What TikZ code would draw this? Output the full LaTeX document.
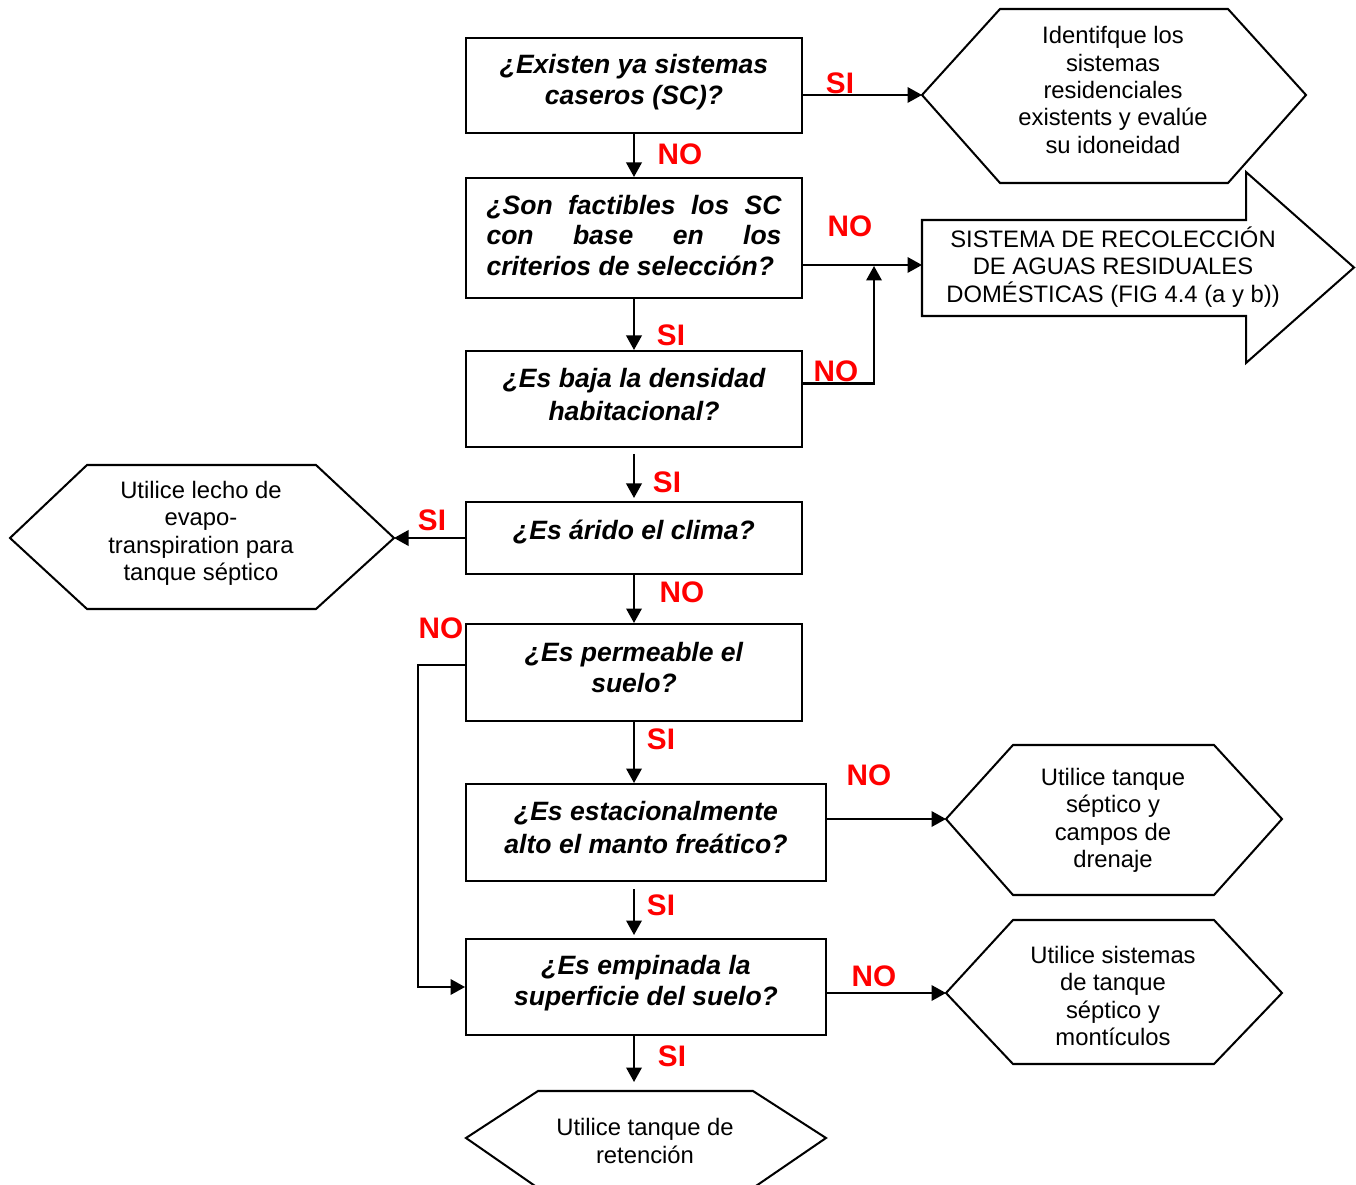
\documentclass[tikz,border=0pt]{standalone}
\usepackage{fontspec}
\setmainfont{Liberation Sans}
\usetikzlibrary{arrows.meta,calc}
\definecolor{lblred}{RGB}{255,0,0}
\begin{document}
\begin{tikzpicture}[x=0.02cm,y=-0.02cm,line width=1.15pt,
  qbox/.style={draw,rectangle,minimum width=#1,inner sep=0pt},
  qbox/.default=6.72cm,
  qtext/.style={font=\fontsize{15.1}{17.6}\selectfont\bfseries\itshape,align=center,inner sep=0pt},
  atext/.style={font=\fontsize{13.55}{15.6}\selectfont,align=center,inner sep=0pt},
  lbl/.style={font=\fontsize{16.9}{20}\selectfont\bfseries,text=lblred,inner sep=0pt},
  flow/.style={-{Triangle[length=0.29cm,width=0.31cm]}},
  hexa/.style={draw,line join=miter}
]
\useasboundingbox (0,0) rectangle (1356,1185);

% decision boxes
\node[qbox,minimum height=1.9cm]  (b1) at (634,85.5) {};
\node[qbox,minimum height=2.4cm]  (b2) at (634,238) {};
\node[qbox,minimum height=1.92cm] (b3) at (634,399) {};
\node[qbox,minimum height=1.44cm] (b4) at (634,538) {};
\node[qbox,minimum height=1.94cm] (b5) at (634,672.5) {};
\node[qbox=7.2cm,minimum height=1.94cm] (b6) at (646,832.5) {};
\node[qbox=7.2cm,minimum height=1.92cm] (b7) at (646,987) {};

% questions
\node[qtext] (t1) at (634,82.5) {¿Existen ya sistemas\\caseros (SC)?};
\node[qtext] (t2) at (634,235.5) {\makebox[5.9cm][s]{¿Son factibles los SC}\\\makebox[5.9cm][s]{con base en los}\\\makebox[5.9cm][l]{criterios de selección?}};
\node[qtext,font=\fontsize{15.1}{18.6}\selectfont\bfseries\itshape] (t3) at (634,394.5) {¿Es baja la densidad\\habitacional?};
\node[qtext] (t4) at (634,532) {¿Es árido el clima?};
\node[qtext] (t5) at (634,667.5) {¿Es permeable el\\suelo?};
\node[qtext,font=\fontsize{15.1}{18.6}\selectfont\bfseries\itshape] (t6) at (646,827.5) {¿Es estacionalmente\\alto el manto freático?};
\node[qtext] (t7) at (646,983.5) {¿Es empinada la\\superficie del suelo?};

% outcome shapes
\draw[hexa] (922,95) coordinate (h1w) -- (1000,9) -- (1228,9) -- (1306,95) -- (1228,183) -- (1000,183) -- cycle;
\node[atext] (h1t) at (1113,90) {Identifque los\\sistemas\\residenciales\\existents y evalúe\\su idoneidad};

\draw[hexa] (922,220) -- (1246,220) -- (1246,172) -- (1354,267.5) -- (1246,363) -- (1246,316) -- (922,316) -- cycle;
\coordinate (arw) at (922,265);
\node[atext] (art) at (1113,267) {SISTEMA DE RECOLECCIÓN\\DE AGUAS RESIDUALES\\DOMÉSTICAS (FIG 4.4 (a y b))};

\draw[hexa] (10,538) -- (87,465) -- (316,465) -- (394,538) coordinate (h2e) -- (316,609) -- (87,609) -- cycle;
\node[atext] (h2t) at (201,533.5) {Utilice lecho de\\evapo-\\transpiration para\\tanque séptico};

\draw[hexa] (946,819) coordinate (h3w) -- (1013,745) -- (1214,745) -- (1282,819) -- (1214,895) -- (1013,895) -- cycle;
\node[atext] (h3t) at (1113,820.5) {Utilice tanque\\séptico y\\campos de\\drenaje};

\draw[hexa] (946,993) coordinate (h4w) -- (1013,920) -- (1214,920) -- (1282,993) -- (1214,1064) -- (1013,1064) -- cycle;
\node[atext] (h4t) at (1113,996) {Utilice sistemas\\de tanque\\séptico y\\montículos};

\draw[hexa] (466,1138) -- (538,1091) -- (753,1091) -- (826,1138) -- (753,1188) -- (538,1188) -- cycle;
\coordinate (h5n) at (634,1082);
\node[atext] (h5t) at (645,1141) {Utilice tanque de\\retención};

% connectors
\draw[flow] (b1.east |- h1w) -- (h1w);
\draw[flow] (b1.south) -- (b2.north);
\draw[flow] (b2.east |- arw) -- (arw);
\coordinate (j1) at (874,266);
\draw[flow] ($(b3.east)+(0,-15.5)$) -| (j1);
\draw[flow] (b2.south) -- (b3.north);
\draw[flow] ($(b3.south)+(0,6)$) -- ($(b4.north)+(0,-3)$);
\draw[flow] (b4.west) -- (h2e);
\draw[flow] (b4.south) -- (b5.north);
\coordinate (lp) at (418,665);
\draw[flow] ($(b5.west)+(0,-7.5)$) -- (lp) |- (b7.west);
\draw[flow] (b5.south) -- (b5.south |- b6.north);
\draw[flow] (b6.east |- h3w) -- (h3w);
\draw[flow] ($(b6.south)+(-12,7)$) -- ($(b7.north)+(-12,-3)$);
\draw[flow] (b7.east |- h4w) -- (h4w);
\draw[flow] ($(b7.south)+(-12,0)$) -- (h5n);

% answer labels
\node[lbl] (l1) at (840,83) {SI};
\node[lbl] (l2) at (680,154) {NO};
\node[lbl] (l3) at (850,226) {NO};
\node[lbl] (l4) at (671,335) {SI};
\node[lbl] (l5) at (836,371) {NO};
\node[lbl] (l6) at (667,482) {SI};
\node[lbl] (l7) at (432,520) {SI};
\node[lbl] (l8) at (682,592) {NO};
\node[lbl] (l9) at (441,628) {NO};
\node[lbl] (l10) at (661,739) {SI};
\node[lbl] (l11) at (869,775) {NO};
\node[lbl] (l12) at (661,905) {SI};
\node[lbl] (l13) at (874,976) {NO};
\node[lbl] (l14) at (672,1056) {SI};
\end{tikzpicture}
\end{document}
